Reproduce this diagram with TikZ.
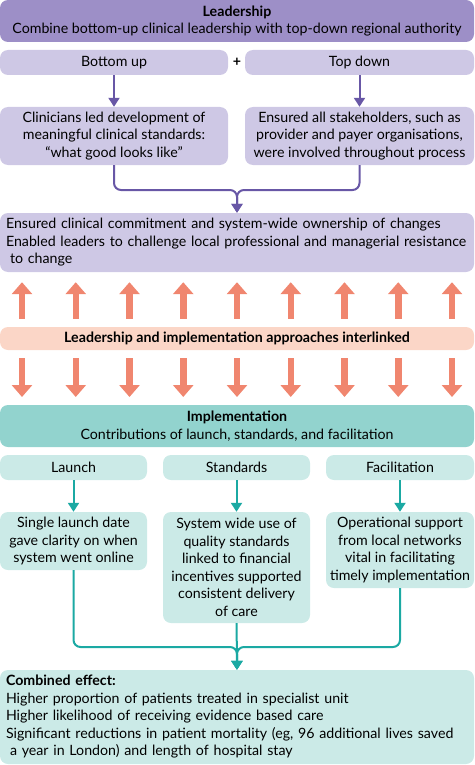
\documentclass[tikz,border=0pt]{standalone}
\usepackage{fontspec}
\setmainfont{Lato}
\usetikzlibrary{arrows.meta}

\definecolor{leaddark}{HTML}{9D8FC7}
\definecolor{leadlight}{HTML}{CEC8E5}
\definecolor{leadline}{HTML}{6857A6}
\definecolor{linkarrow}{HTML}{F0866F}
\definecolor{linkfill}{HTML}{FBD6C7}
\definecolor{impldark}{HTML}{92D3CE}
\definecolor{impllight}{HTML}{CBEAE7}
\definecolor{implline}{HTML}{1BA9A3}

\tikzset{
  box/.style={rounded corners=8pt, inner sep=0pt, align=center,
    font=\fontsize{14.2}{17.5}\selectfont},
  wide/.style={box, align=left, inner xsep=6pt, text width=462pt},
  lbox/.style={box, fill=leadlight},
  ibox/.style={box, fill=impllight},
  leadarrow/.style={draw=leadline, line width=2pt, -{Triangle[width=11pt,length=9pt]}},
  implarrow/.style={draw=implline, line width=2pt, -{Triangle[width=11pt,length=9pt]}},
  bigarrow/.style={draw=linkarrow, line width=6.5pt, -{Triangle[width=20pt,length=12pt]}},
}

\begin{document}
\begin{tikzpicture}[x=1pt, y=-1pt]
  \useasboundingbox (0,0) rectangle (474,765);

  % leadership part
  \node[box, fill=leaddark, minimum width=474pt, minimum height=42pt] (lead) at(237,21)
    {\textbf{Leadership}\\Combine bottom-up clinical leadership with top-down regional authority};
  \node[lbox, minimum width=228pt, minimum height=25pt] (bup) at(114,62.5) {Bottom up};
  \node[lbox, minimum width=229pt, minimum height=25pt] (tdn) at(359.5,62.5) {Top down};
  \node[box] (plus) at(237,62) {\textbf{+}};
  \node[lbox, minimum width=228pt, minimum height=58pt] (clin) at(114,136)
    {Clinicians led development of\\meaningful clinical standards:\\``what good looks like''};
  \node[lbox, minimum width=229pt, minimum height=58pt] (stake) at(359.5,136)
    {Ensured all stakeholders, such as\\provider and payer organisations,\\were involved throughout process};
  \node[wide, fill=leadlight, minimum height=59pt] (ens) at(237,242.5)
    {Ensured clinical commitment and system-wide ownership of changes\\
     \mbox{Enabled leaders to challenge local professional and managerial resistance}\\
     \hspace*{4pt}to change};
  \coordinate (merge) at (237,190);
  \draw[leadarrow] (bup) -- (clin);
  \draw[leadarrow] (tdn) -- (stake);
  \draw[leadarrow, rounded corners=7pt] (clin.south) |- (merge) -- (ens.north);
  \draw[leadarrow, rounded corners=7pt] (stake.south) |- (merge) -- (ens.north);

  % interlinked
  \node[box, fill=linkfill, minimum width=474pt, minimum height=23pt] (link) at(237,338.5)
    {\textbf{Leadership and implementation approaches interlinked}};
  \foreach \i in {0,...,8} {
    \coordinate (up\i) at (22+\i*53.75,0);
    \draw[bigarrow, shorten <=8pt, shorten >=10pt] (link.north -| up\i) -- (ens.south -| up\i);
  }
  \foreach \i in {0,...,8} {
    \draw[bigarrow, shorten <=8pt, shorten >=8pt] (link.south -| up\i) -- (0,405 -| up\i);
  }

  % implementation part
  \node[box, fill=impldark, minimum width=474pt, minimum height=42pt] (impl) at(237,426)
    {\textbf{Implementation}\\Contributions of launch, standards, and facilitation};
  \node[ibox, minimum width=147pt, minimum height=25pt] (lau) at(73.5,467.5) {Launch};
  \node[ibox, minimum width=147pt, minimum height=25pt] (std) at(236.5,467.5) {Standards};
  \node[ibox, minimum width=148pt, minimum height=25pt] (fac) at(400,467.5) {Facilitation};
  \node[ibox, minimum width=147pt, minimum height=58pt] (lau2) at(73.5,541)
    {Single launch date\\gave clarity on when\\system went online};
  \node[ibox, minimum width=147pt, minimum height=111pt] (std2) at(236.5,567.5)
    {System wide use of\\quality standards\\linked to financial\\incentives supported\\consistent delivery\\of care};
  \node[ibox, minimum width=148pt, minimum height=76pt] (fac2) at(400,550)
    {Operational support\\from local networks\\vital in facilitating\\timely implementation};
  \node[wide, fill=impllight, minimum height=94pt] (comb) at(237,717)
    {\textbf{Combined effect:}\\
     Higher proportion of patients treated in specialist unit\\
     Higher likelihood of receiving evidence based care\\
     Significant reductions in patient mortality (eg, 96 additional lives saved\\
     \hspace*{4pt}a year in London) and length of hospital stay};
  \coordinate (merge2) at (237,647);
  \draw[implarrow] (lau) -- (lau2);
  \draw[implarrow] (std) -- (std2);
  \draw[implarrow] (fac) -- (fac2);
  \draw[implarrow, rounded corners=7pt] (lau2.south) |- (merge2) -- (comb.north);
  \draw[implarrow, rounded corners=7pt] (fac2.south) |- (merge2) -- (comb.north);
  \draw[implarrow] (std2) -- (comb);
\end{tikzpicture}
\end{document}
